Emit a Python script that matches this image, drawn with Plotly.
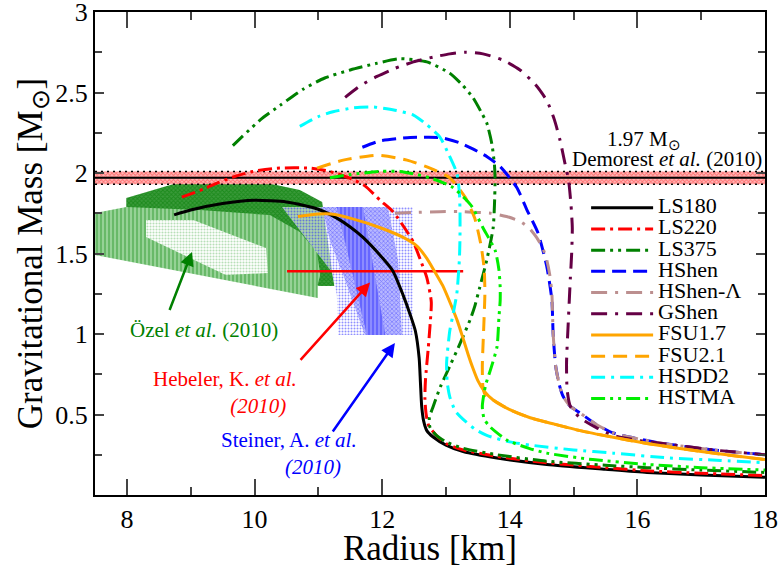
import plotly.graph_objects as go

# ---------------- data ----------------
ls180_r = [8.74, 9.0, 9.5, 10.0, 10.5, 10.76, 11.0, 11.29, 11.5, 11.7, 12.01, 12.17, 12.33, 12.44, 12.52, 12.58, 12.6, 12.62, 12.65, 12.7, 12.8, 13.0, 13.27, 13.8, 14.58, 15.5, 16.15, 17.0, 18.0]
ls180_m = [1.74, 1.77, 1.81, 1.83, 1.82, 1.80, 1.775, 1.72, 1.665, 1.60, 1.47, 1.39, 1.24, 1.12, 1.02, 0.85, 0.7, 0.55, 0.46, 0.40, 0.36, 0.31, 0.27, 0.23, 0.19, 0.16, 0.14, 0.125, 0.11]

ls220_r = [8.86, 9.2, 9.43, 9.7, 9.98, 10.35, 10.87, 11.18, 11.54, 11.73, 11.97, 12.17, 12.35, 12.49, 12.6, 12.7, 12.77, 12.75, 12.72, 12.68, 12.67, 12.69, 12.73, 12.85, 13.0, 13.27, 13.8, 14.58, 15.5, 16.15, 17.0, 18.0]
ls220_m = [1.85, 1.9, 1.94, 1.98, 2.01, 2.03, 2.03, 2.01, 1.96, 1.92, 1.83, 1.76, 1.66, 1.57, 1.46, 1.35, 1.2, 1.05, 0.9, 0.72, 0.6, 0.5, 0.43, 0.37, 0.32, 0.28, 0.24, 0.2, 0.17, 0.15, 0.135, 0.12]

ls375_r = [9.66, 10.09, 10.4, 10.76, 11.1, 11.5, 11.9, 12.28, 12.7, 13.06, 13.25, 13.42, 13.55, 13.64, 13.72, 13.76, 13.77, 13.76, 13.74, 13.64, 13.53, 13.45, 13.38, 13.22, 13.06, 12.91, 12.8, 12.74, 12.75, 12.85, 13.0, 13.27, 13.8, 14.58, 15.5, 16.15, 17.0, 18.0]
ls375_m = [2.17, 2.33, 2.42, 2.52, 2.59, 2.64, 2.68, 2.71, 2.69, 2.62, 2.55, 2.47, 2.38, 2.31, 2.18, 2.05, 1.96, 1.8, 1.66, 1.46, 1.29, 1.17, 1.09, 0.94, 0.8, 0.67, 0.55, 0.48, 0.42, 0.37, 0.33, 0.29, 0.25, 0.21, 0.185, 0.17, 0.155, 0.14]

hshen_r = [11.69, 11.97, 12.44, 12.91, 13.2, 13.42, 13.65, 13.85, 14.11, 14.27, 14.44, 14.58, 14.66, 14.68, 14.72, 14.78, 14.84, 14.95, 15.1, 15.35, 15.62, 16.0, 16.4, 17.19, 18.0]
hshen_m = [2.16, 2.2, 2.22, 2.22, 2.19, 2.15, 2.1, 2.04, 1.91, 1.77, 1.63, 1.42, 1.21, 1.0, 0.8, 0.68, 0.61, 0.55, 0.51, 0.44, 0.385, 0.35, 0.32, 0.28, 0.25]

hshenl_r = [12.2, 12.5, 12.9, 13.2, 13.5, 13.7, 13.95, 14.16, 14.3, 14.42, 14.52, 14.58, 14.63, 14.66, 14.68, 14.72, 14.78, 14.84, 14.95, 15.1, 15.35, 15.62, 16.0, 16.4, 17.19, 18.0]
hshenl_m = [1.75, 1.755, 1.76, 1.76, 1.755, 1.75, 1.73, 1.7, 1.66, 1.6, 1.53, 1.46, 1.36, 1.25, 1.0, 0.8, 0.68, 0.61, 0.55, 0.51, 0.44, 0.385, 0.35, 0.32, 0.28, 0.25]

gshen_r = [11.42, 11.65, 11.92, 12.2, 12.49, 12.8, 13.06, 13.3, 13.58, 13.9, 14.16, 14.4, 14.58, 14.7, 14.79, 14.87, 14.92, 14.96, 14.98, 14.97, 14.95, 14.92, 14.89, 14.9, 14.95, 15.1, 15.35, 15.62, 16.0, 16.4, 17.19, 18.0]
gshen_m = [2.47, 2.54, 2.6, 2.65, 2.69, 2.72, 2.74, 2.75, 2.74, 2.7, 2.64, 2.55, 2.45, 2.33, 2.2, 2.05, 1.96, 1.8, 1.66, 1.5, 1.35, 1.1, 0.82, 0.65, 0.55, 0.48, 0.42, 0.37, 0.34, 0.32, 0.28, 0.25]

fsu17_r = [10.68, 11.0, 11.2, 11.54, 11.97, 12.33, 12.55, 12.7, 12.82, 12.95, 13.08, 13.18, 13.27, 13.35, 13.42, 13.5, 13.6, 13.74, 14.0, 14.32, 14.7, 15.1, 15.6, 16.15, 17.0, 18.0]
fsu17_m = [1.73, 1.745, 1.745, 1.715, 1.66, 1.60, 1.545, 1.47, 1.39, 1.30, 1.18, 1.08, 0.97, 0.87, 0.79, 0.71, 0.645, 0.59, 0.53, 0.48, 0.44, 0.4, 0.36, 0.32, 0.27, 0.22]

fsu21_r = [10.98, 11.39, 11.92, 12.39, 12.75, 13.06, 13.3, 13.45, 13.55, 13.6, 13.61, 13.59, 13.57, 13.58, 13.62, 13.74, 14.0, 14.32, 14.7, 15.1, 15.6, 16.15, 17.0, 18.0]
fsu21_m = [2.03, 2.08, 2.11, 2.08, 2.03, 1.97, 1.85, 1.72, 1.55, 1.4, 1.25, 1.02, 0.8, 0.67, 0.62, 0.59, 0.53, 0.48, 0.44, 0.4, 0.36, 0.32, 0.27, 0.22]

hsdd2_r = [10.71, 11.0, 11.23, 11.55, 11.86, 12.2, 12.49, 12.7, 12.91, 13.05, 13.17, 13.21, 13.22, 13.22, 13.21, 13.17, 13.1, 13.06, 13.01, 13.02, 13.06, 13.15, 13.27, 13.45, 13.64, 14.0, 14.32, 15.0, 15.62, 16.5, 17.3, 18.0]
hsdd2_m = [2.29, 2.35, 2.38, 2.405, 2.41, 2.39, 2.36, 2.3, 2.22, 2.11, 2.0, 1.88, 1.77, 1.6, 1.46, 1.25, 1.1, 1.02, 0.82, 0.7, 0.61, 0.52, 0.47, 0.41, 0.37, 0.33, 0.31, 0.28, 0.26, 0.23, 0.215, 0.2]

hstma_r = [11.18, 11.5, 11.97, 12.28, 12.55, 12.75, 12.95, 13.11, 13.3, 13.41, 13.58, 13.77, 13.83, 13.85, 13.85, 13.83, 13.8, 13.7, 13.62, 13.57, 13.6, 13.7, 13.96, 14.3, 14.58, 15.3, 16.15, 17.0, 18.0]
hstma_m = [1.97, 1.99, 2.01, 2.01, 1.99, 1.97, 1.94, 1.91, 1.84, 1.79, 1.66, 1.52, 1.4, 1.29, 1.21, 1.1, 0.92, 0.78, 0.68, 0.55, 0.47, 0.42, 0.34, 0.29, 0.26, 0.22, 0.19, 0.17, 0.155]

# Observational constraints
demorest_mass = 1.97
demorest_err = 0.04
radius_range = [7.5, 18.0]

ozel_outer_r = [7.99, 8.93, 9.93, 10.71, 11.06, 11.25, 11.01, 7.99]
ozel_outer_m = [1.845, 1.955, 1.96, 1.894, 1.82, 1.298, 1.298, 1.77]
ozel_mid_r = [7.5, 7.99, 9.15, 10.24, 10.71, 10.98, 11.03, 10.99, 10.99, 7.5]
ozel_mid_m = [1.752, 1.789, 1.77, 1.739, 1.634, 1.509, 1.366, 1.304, 1.224, 1.491]
ozel_inner_r = [8.30, 9.04, 10.18, 10.21, 9.55, 8.30]
ozel_inner_m = [1.708, 1.708, 1.534, 1.379, 1.366, 1.602]

steiner_outer_r = [10.43, 12.48, 12.48, 11.31, 11.29, 11.21]
steiner_outer_m = [1.789, 1.789, 0.994, 0.994, 1.242, 1.385]
steiner_mid_r = [11.06, 12.09, 12.25, 12.31, 11.73, 11.42, 11.18]
steiner_mid_m = [1.789, 1.789, 1.46, 0.994, 0.994, 1.335, 1.584]
steiner_inner_r = [11.29, 11.70, 12.05, 11.76]
steiner_inner_m = [1.789, 1.789, 0.994, 0.994]

hebeler_r = [10.51, 13.27]
hebeler_m = [1.39, 1.39]

FONT = "Liberation Serif"

fig = go.Figure()

# --- Özel et al. regions ---
fig.add_trace(go.Scatter(x=ozel_outer_r, y=ozel_outer_m, fill="toself", mode="none", showlegend=False,
                         fillpattern=dict(shape="x", fgcolor="#007a00", bgcolor="#3a9a3a", size=3, solidity=0.5)))
fig.add_trace(go.Scatter(x=ozel_mid_r, y=ozel_mid_m, fill="toself", mode="none", showlegend=False,
                         fillpattern=dict(shape="|", fgcolor="#3a9f3a", bgcolor="#96d296", size=4, solidity=0.5)))
fig.add_trace(go.Scatter(x=ozel_inner_r, y=ozel_inner_m, fill="toself", mode="none", showlegend=False,
                         fillpattern=dict(shape=".", fgcolor="#6fbf6f", bgcolor="#ffffff", size=3, solidity=0.4)))

# --- Steiner et al. regions ---
fig.add_trace(go.Scatter(x=steiner_outer_r, y=steiner_outer_m, fill="toself", mode="none", showlegend=False,
                         fillpattern=dict(shape=".", fgcolor="#2020ff", bgcolor="rgba(255,255,255,0.6)", size=3, solidity=0.35)))
fig.add_trace(go.Scatter(x=steiner_mid_r, y=steiner_mid_m, fill="toself", mode="none", showlegend=False,
                         fillpattern=dict(shape="x", fgcolor="#3030ff", bgcolor="#b8b8ff", size=3, solidity=0.4)))
fig.add_trace(go.Scatter(x=steiner_inner_r, y=steiner_inner_m, fill="toself", mode="none", showlegend=False,
                         fillpattern=dict(shape="|", fgcolor="#4040ff", bgcolor="#8c8cff", size=4, solidity=0.5)))

# --- Demorest band ---
lo = [demorest_mass - demorest_err] * 2
hi = [demorest_mass + demorest_err] * 2
fig.add_trace(go.Scatter(x=radius_range, y=lo, mode="lines", showlegend=False,
                         line=dict(color="black", width=1.5, dash="2px,4px")))
fig.add_trace(go.Scatter(x=radius_range, y=hi, mode="lines", showlegend=False, fill="tonexty",
                         fillpattern=dict(shape="x", fgcolor="#ff3030", bgcolor="#ffb8b8", size=3, solidity=0.5),
                         line=dict(color="black", width=1.5, dash="2px,4px")))
fig.add_trace(go.Scatter(x=radius_range, y=[demorest_mass] * 2, mode="lines", showlegend=False,
                         line=dict(color="black", width=2)))

# --- Hebeler line ---
fig.add_trace(go.Scatter(x=hebeler_r, y=hebeler_m, mode="lines", showlegend=False,
                         line=dict(color="#ff0000", width=2.5)))

# --- EOS curves ---
curves = [
    ("LS180", ls180_r, ls180_m, "#000000", "solid"),
    ("LS220", ls220_r, ls220_m, "#ff0000", "14px,5px,3px,5px"),
    ("LS375", ls375_r, ls375_m, "#008000", "14px,5px,3px,5px,3px,5px"),
    ("HShen", hshen_r, hshen_m, "#0000ff", "14px,7px"),
    ("HShen-Λ", hshenl_r, hshenl_m, "#bc8f8f", "16px,8px,3px,8px"),
    ("GShen", gshen_r, gshen_m, "#650045", "16px,8px,3px,8px"),
    ("FSU1.7", fsu17_r, fsu17_m, "#ffa500", "solid"),
    ("FSU2.1", fsu21_r, fsu21_m, "#ffa500", "14px,8px"),
    ("HSDD2", hsdd2_r, hsdd2_m, "#00ffff", "14px,6px,3px,6px"),
    ("HSTMA", hstma_r, hstma_m, "#00ee00", "14px,5px,3px,5px,3px,5px"),
]
for name, r, m, col, dash in curves:
    fig.add_trace(go.Scatter(x=r, y=m, mode="lines", name=f"<span style='font-size:22px'>{name}</span>",
                             line=dict(color=col, width=3, dash=dash, shape="spline", smoothing=0.6)))

# --- annotations ---
fig.add_annotation(x=16.1, y=2.205, text="1.97 M<sub>⊙</sub>", showarrow=False,
                   font=dict(size=21, color="black", family=FONT))
fig.add_annotation(x=16.47, y=2.09, text="Demorest <i>et al.</i> (2010)", showarrow=False,
                   font=dict(size=21, color="black", family=FONT))
fig.add_annotation(x=9.21, y=1.025, text="Özel <i>et al.</i> (2010)", showarrow=False,
                   font=dict(size=21, color="#008000", family=FONT))
fig.add_annotation(x=10.7, y=0.637, xanchor="right", align="right",
                   text="Hebeler, K. <i>et al.</i><br><i>(2010)</i>\u00a0\u00a0", showarrow=False,
                   font=dict(size=21, color="#ff0000", family=FONT))
fig.add_annotation(x=11.63, y=0.255, xanchor="right", align="right",
                   text="Steiner, A. <i>et al.</i><br><i>(2010)</i>\u00a0\u00a0\u00a0", showarrow=False,
                   font=dict(size=21, color="#0000ff", family=FONT))

# arrows (tail -> tip)
arrows = [
    (8.66, 1.14, 9.02, 1.51, "#008000"),
    (10.70, 0.83, 11.81, 1.32, "#ff0000"),
    (11.21, 0.385, 12.2, 0.944, "#0000ff"),
]
for ax_, ay_, x_, y_, c in arrows:
    fig.add_annotation(x=x_, y=y_, ax=ax_, ay=ay_, axref="x", ayref="y", xref="x", yref="y",
                       text="", showarrow=True, arrowhead=2, arrowsize=1.1, arrowwidth=2.5, arrowcolor=c)

fig.update_layout(
    width=780, height=568,
    margin=dict(l=95, r=15, t=12, b=73),
    paper_bgcolor="white", plot_bgcolor="white",
    font=dict(family=FONT, color="black"),
    legend=dict(x=0.733, y=0.627, xanchor="left", yanchor="top", bgcolor="rgba(0,0,0,0)",
                font=dict(size=14, family=FONT), tracegroupgap=0, traceorder="normal", itemwidth=62),
    xaxis=dict(range=[7.5, 18], tickvals=[8, 10, 12, 14, 16, 18], ticks="inside", ticklen=16, tickwidth=1.5,
               minor=dict(ticks="inside", ticklen=8, dtick=1, tickwidth=1.5),
               showline=True, linecolor="black", linewidth=2, mirror="allticks", showgrid=False, zeroline=False,
               tickfont=dict(size=26, family=FONT), automargin=False, ticklabeloverflow="allow",
               title=dict(text="Radius [km]", font=dict(size=35, family=FONT), standoff=0)),
    yaxis=dict(range=[0, 3], tickvals=[0.5, 1, 1.5, 2, 2.5, 3], ticktext=["0.5", "1", "1.5", "2", "2.5", "3"],
               ticks="inside", ticklen=9, tickwidth=1.5,
               minor=dict(ticks="inside", ticklen=7, dtick=0.25, tickwidth=1.5),
               showline=True, linecolor="black", linewidth=2, mirror="allticks", showgrid=False, zeroline=False,
               tickfont=dict(size=26, family=FONT), automargin=False, ticklabeloverflow="allow",
               title=dict(text="Gravitational Mass [M<sub>⊙</sub>]", font=dict(size=35, family=FONT), standoff=2)),
)

fig.write_html("out.html", config={"displayModeBar": False},
               post_script="document.body.style.margin='0';document.body.style.overflow='hidden';")
